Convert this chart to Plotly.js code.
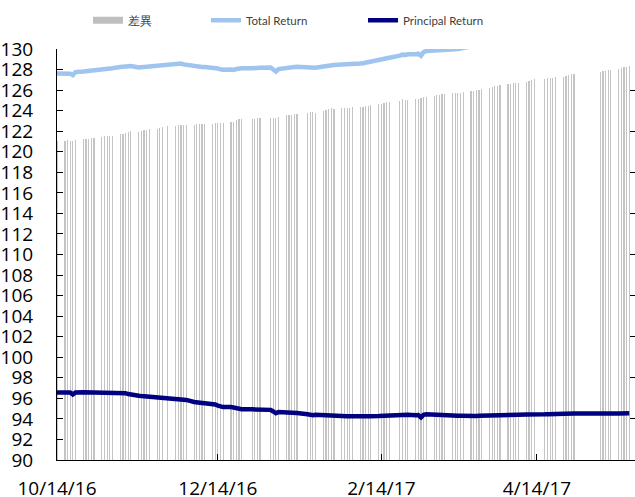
<!DOCTYPE html>
<html>
<head>
<meta charset="utf-8">
<script src="https://cdn.plot.ly/plotly-3.0.1.min.js"></script>
<style>html,body{margin:0;padding:0;background:#fff;}#chart{width:635px;height:497px;}</style>
</head>
<body>
<div id="chart"></div>
<script>
// Business dates
const dates = [
 "2016-10-14","2016-10-17","2016-10-18","2016-10-19","2016-10-20","2016-10-21","2016-10-24","2016-10-25","2016-10-26","2016-10-27","2016-10-28","2016-10-31",
 "2016-11-01","2016-11-02","2016-11-03","2016-11-04","2016-11-07","2016-11-08","2016-11-09","2016-11-10","2016-11-11","2016-11-14","2016-11-15","2016-11-16","2016-11-17","2016-11-18","2016-11-21","2016-11-22","2016-11-23","2016-11-25","2016-11-28","2016-11-29","2016-11-30",
 "2016-12-01","2016-12-02","2016-12-05","2016-12-06","2016-12-07","2016-12-08","2016-12-09","2016-12-12","2016-12-13","2016-12-14","2016-12-15","2016-12-16","2016-12-19","2016-12-20","2016-12-21","2016-12-22","2016-12-23","2016-12-27","2016-12-28","2016-12-29","2016-12-30",
 "2017-01-03","2017-01-04","2017-01-05","2017-01-06","2017-01-09","2017-01-10","2017-01-11","2017-01-12","2017-01-13","2017-01-17","2017-01-18","2017-01-19","2017-01-20","2017-01-23","2017-01-24","2017-01-25","2017-01-26","2017-01-27","2017-01-30","2017-01-31",
 "2017-02-01","2017-02-02","2017-02-03","2017-02-06","2017-02-07","2017-02-08","2017-02-09","2017-02-10","2017-02-13","2017-02-14","2017-02-15","2017-02-16","2017-02-17","2017-02-21","2017-02-22","2017-02-23","2017-02-24","2017-02-27","2017-02-28",
 "2017-03-01","2017-03-02","2017-03-03","2017-03-06","2017-03-07","2017-03-08","2017-03-09","2017-03-10","2017-03-13","2017-03-14","2017-03-15","2017-03-16","2017-03-17","2017-03-20","2017-03-21","2017-03-22","2017-03-23","2017-03-24","2017-03-27","2017-03-28","2017-03-29","2017-03-30","2017-03-31",
 "2017-04-03","2017-04-04","2017-04-05","2017-04-06","2017-04-07","2017-04-10","2017-04-11","2017-04-12","2017-04-13","2017-04-17","2017-04-18","2017-04-19","2017-04-20","2017-04-21","2017-04-24","2017-04-25","2017-04-26","2017-04-27","2017-04-28",
 "2017-05-08","2017-05-09","2017-05-10","2017-05-11","2017-05-12","2017-05-15","2017-05-16","2017-05-17","2017-05-18","2017-05-19"
];

const totalReturn = [
 127.62,127.62,127.65,127.60,127.45,127.75,127.80,127.82,127.85,127.90,127.95,128.02,
 128.05,128.08,128.10,128.12,128.25,128.30,128.32,128.38,128.35,128.20,128.22,128.30,128.33,128.35,128.40,128.42,128.45,128.50,128.55,128.60,128.58,
 128.50,128.45,128.30,128.28,128.25,128.25,128.25,128.22,128.15,128.10,128.02,127.98,128.00,127.96,128.05,128.10,128.12,128.12,128.15,128.15,128.18,
 128.20,128.05,127.80,128.05,128.20,128.18,128.22,128.25,128.27,128.22,128.25,128.25,128.18,128.30,128.35,128.45,128.48,128.45,128.50,128.50,
 128.52,128.55,128.60,128.58,128.62,128.68,128.72,128.78,128.90,128.98,129.05,129.10,129.15,129.35,129.45,129.42,129.48,129.50,129.55,
 129.35,129.70,129.80,129.82,129.85,129.88,129.90,129.92,129.95,129.97,130.00,130.05,130.10,130.20,130.25,130.28,130.35,130.40,130.53,130.60,130.69,130.76,130.84,
 130.90,130.96,131.03,131.06,131.12,131.24,131.34,131.42,131.50,131.53,131.59,131.65,131.70,131.75,131.82,131.92,132.07,132.08,132.12,
 132.32,132.35,132.42,132.48,132.52,132.63,132.70,132.75,132.82,132.90
];

const principalReturn = [
 96.58,96.55,96.52,96.56,96.38,96.58,96.60,96.60,96.58,96.58,96.57,96.56,
 96.55,96.55,96.54,96.55,96.55,96.53,96.50,96.42,96.35,96.25,96.22,96.20,96.20,96.18,96.15,96.08,96.03,96.03,96.00,95.98,95.95,
 95.90,95.85,95.65,95.58,95.55,95.55,95.52,95.48,95.40,95.30,95.18,95.15,95.15,95.10,94.98,94.95,94.95,94.93,94.93,94.90,94.90,
 94.88,94.72,94.55,94.68,94.65,94.64,94.62,94.60,94.58,94.45,94.38,94.36,94.40,94.35,94.30,94.30,94.27,94.25,94.25,94.26,
 94.25,94.27,94.26,94.27,94.28,94.27,94.25,94.27,94.28,94.30,94.32,94.30,94.35,94.38,94.36,94.38,94.40,94.35,94.38,
 94.15,94.40,94.45,94.40,94.35,94.32,94.30,94.30,94.28,94.28,94.30,94.30,94.28,94.30,94.30,94.28,94.30,94.30,94.30,94.30,94.32,94.33,94.34,
 94.35,94.36,94.38,94.38,94.40,94.42,94.44,94.45,94.45,94.45,94.46,94.47,94.48,94.48,94.50,94.52,94.60,94.55,94.52,
 94.52,94.50,94.52,94.53,94.52,94.53,94.54,94.53,94.54,94.55
];

// 差異 = Total Return - Principal Return
const difference = totalReturn.map((t, i) => +(t - principalReturn[i]).toFixed(2));

const tickDates = ["2016-10-14", "2016-12-14", "2017-02-14", "2017-04-14"];
const tickLabels = ["10/14/16", "12/14/16", "2/14/17", "4/14/17"];

const seriesNames = ["差異", "Total Return", "Principal Return"];

const DAY = 86400000;
const traces = [
  {
    type: "bar", x: dates, y: difference, yaxis: "y", xaxis: "x",
    width: DAY * 0.45,
    marker: { color: "rgb(196,196,196)", line: { width: 0 } },
    showlegend: false, hoverinfo: "x+y"
  },
  {
    type: "scatter", mode: "lines", x: [dates[0]], y: [null], yaxis: "y2",
    name: seriesNames[0], line: { color: "rgb(191,191,191)", width: 7 },
    legend: "legend", showlegend: true
  },
  {
    type: "scatter", mode: "lines", x: dates, y: totalReturn, yaxis: "y2",
    name: seriesNames[1], line: { color: "#9fc5ee", width: 4.5 },
    legend: "legend2"
  },
  {
    type: "scatter", mode: "lines", x: dates, y: principalReturn, yaxis: "y2",
    name: seriesNames[2], line: { color: "#000080", width: 4.5 },
    legend: "legend3"
  }
];

const legFont = { family: "Lato, sans-serif", size: 11.5, color: "#404040" };
const legBase = { orientation: "h", xanchor: "left", yanchor: "middle", y: 1.07, bgcolor: "rgba(0,0,0,0)", font: legFont, borderwidth: 0 };

const tickFont = { family: "Open Sans, sans-serif", size: 19, color: "#000" };

const layout = {
  width: 635, height: 497,
  margin: { l: 57, r: 0, t: 49, b: 37, pad: 0 },
  paper_bgcolor: "#ffffff", plot_bgcolor: "#ffffff",
  font: { family: "Open Sans, sans-serif", color: "#000000" },
  bargap: 0,
  xaxis: {
    type: "date",
    range: ["2016-10-14", "2017-05-21 04:00"],
    tickmode: "array", tickvals: tickDates, ticktext: tickLabels,
    ticks: "inside", ticklen: 6, tickcolor: "#000", tickwidth: 1,
    showline: true, linecolor: "#000", linewidth: 1,
    showgrid: false, zeroline: false,
    tickfont: tickFont,
    ticklabelstandoff: 11
  },
  yaxis: {
    range: [0, 40], dtick: 4, side: "right",
    ticks: "inside", ticklen: 5, tickcolor: "#000",
    showticklabels: false, showline: false, showgrid: false, zeroline: false
  },
  yaxis2: {
    overlaying: "y", side: "left", anchor: "x",
    range: [90, 130], dtick: 2,
    ticks: "inside", ticklen: 6, tickcolor: "#000",
    showline: true, linecolor: "#000", linewidth: 1,
    showgrid: false, zeroline: false,
    tickfont: tickFont,
    ticklabelstandoff: 19
  },
  legend: Object.assign({}, legBase, { x: 0.0536 }),
  legend2: Object.assign({}, legBase, { x: 0.2578 }),
  legend3: Object.assign({}, legBase, { x: 0.5294 })
};

Plotly.newPlot("chart", traces, layout, { displayModeBar: false, staticPlot: true });
</script>
</body>
</html>
